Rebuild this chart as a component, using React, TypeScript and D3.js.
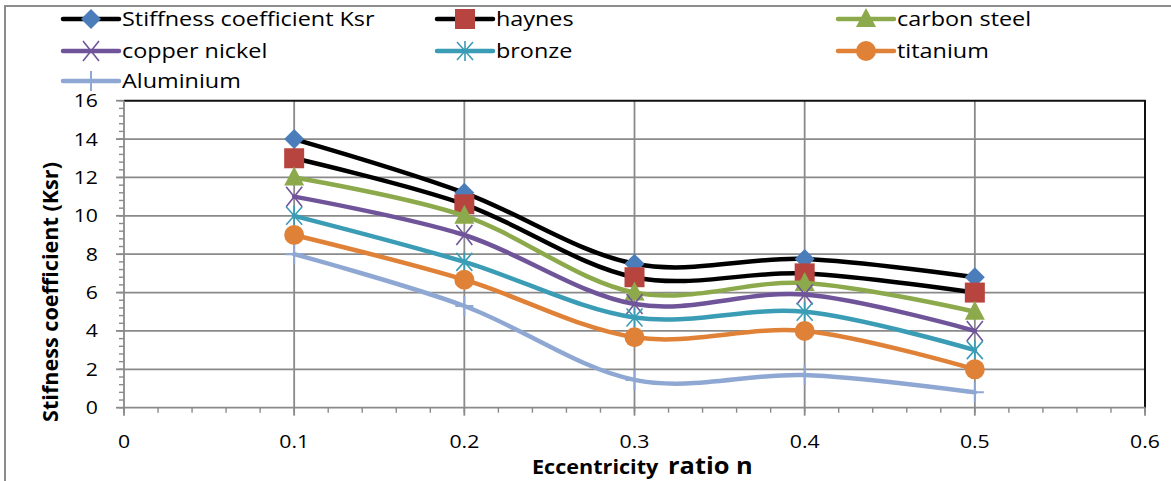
import React from "react";
import * as d3 from "d3";

// Eccentricity ratio values on the x axis
const ratios = [0.1, 0.2, 0.3, 0.4, 0.5];

// Stiffness coefficient per series
const ksr = [14, 11.2, 7.5, 7.75, 6.8];
const haynes = [13, 10.6, 6.8, 7.0, 6.0];
const carbonSteel = [12, 10, 6.0, 6.5, 5.0];
const copperNickel = [11, 9.0, 5.4, 5.9, 4.0];
const bronze = [10, 7.6, 4.7, 5.0, 3.0];
const titanium = [9, 6.67, 3.67, 4.0, 2.0];
const aluminium = [8, 5.3, 1.45, 1.7, 0.8];

const seriesNames = [
  "Stiffness coefficient Ksr",
  "haynes",
  "carbon steel",
  "copper nickel",
  "bronze",
  "titanium",
  "Aluminium",
];

const xTickLabels = ["0", "0.1", "0.2", "0.3", "0.4", "0.5", "0.6"];
const yTickLabels = ["0", "2", "4", "6", "8", "10", "12", "14", "16"];

type MarkerKind = "diamond" | "square" | "triangle" | "x" | "star" | "circle" | "plus";

const styles: { line: string; marker: string; kind: MarkerKind }[] = [
  { line: "#000000", marker: "#4A7DBA", kind: "diamond" },
  { line: "#000000", marker: "#B8443F", kind: "square" },
  { line: "#8CAA4B", marker: "#8CAA4B", kind: "triangle" },
  { line: "#70549A", marker: "#70549A", kind: "x" },
  { line: "#3A9CB5", marker: "#3A9CB5", kind: "star" },
  { line: "#E08138", marker: "#E08138", kind: "circle" },
  { line: "#8FA8D3", marker: "#8FA8D3", kind: "plus" },
];

const allSeries = [ksr, haynes, carbonSteel, copperNickel, bronze, titanium, aluminium];

const W = 1171;
const H = 481;
const plot = { left: 124, right: 1145, top: 100.7, bottom: 407.7 };
const FONT = "'Open Sans', 'Noto Sans', sans-serif";
const SX = 1.18;

function Marker({ kind, color, x, y }: { kind: MarkerKind; color: string; x: number; y: number }) {
  switch (kind) {
    case "diamond":
      return <path d={`M${x},${y - 10}L${x + 10},${y}L${x},${y + 10}L${x - 10},${y}Z`} fill={color} />;
    case "square":
      return <rect x={x - 10} y={y - 10} width={20} height={20} fill={color} />;
    case "triangle":
      return <path d={`M${x},${y - 11}L${x + 10},${y + 8}L${x - 10},${y + 8}Z`} fill={color} />;
    case "x":
      return (
        <path
          d={`M${x - 8},${y - 10}L${x + 8},${y + 10}M${x + 8},${y - 10}L${x - 8},${y + 10}`}
          stroke={color}
          strokeWidth={1.6}
          fill="none"
        />
      );
    case "star":
      return (
        <path
          d={`M${x - 8},${y - 9}L${x + 8},${y + 9}M${x + 8},${y - 9}L${x - 8},${y + 9}M${x},${y - 10}L${x},${y + 10}`}
          stroke={color}
          strokeWidth={1.6}
          fill="none"
        />
      );
    case "circle":
      return <circle cx={x} cy={y} r={10} fill={color} />;
    case "plus":
      return (
        <path
          d={`M${x - 9},${y}L${x + 9},${y}M${x},${y - 10}L${x},${y + 10}`}
          stroke={color}
          strokeWidth={2}
          fill="none"
        />
      );
  }
}

export default function App() {
  const x = d3.scaleLinear().domain([0, 0.6]).range([plot.left, plot.right]);
  const y = d3.scaleLinear().domain([0, 16]).range([plot.bottom, plot.top]);

  const line = d3
    .line<number>()
    .x((_, i) => x(ratios[i]))
    .y((d) => y(d))
    .curve(d3.curveCardinal.tension(0));

  const xMajor = xTickLabels.map((t) => +t);
  const xMinor = d3.range(0, 0.6001, 0.02);
  const yMajor = yTickLabels.map((t) => +t);
  const yMinor = d3.range(0, 16.001, 0.4);

  const gridColor = "#8A8A8A";

  const legendCols = [63, 437, 838];
  const legendRows = [19, 51, 81];

  return (
    <svg
      width={W}
      height={H}
      style={{ position: "absolute", left: 0, top: 0, background: "#fff" }}
      fontFamily={FONT}
    >
      <rect x={0} y={0} width={W} height={H} fill="#fff" />
      {/* chart frame */}
      <path d={`M5,${H}L5,6L${W},6`} stroke="#8C8C8C" strokeWidth={2} fill="none" />

      {/* horizontal gridlines */}
      {yMajor
        .filter((v) => v > 0 && v < 16)
        .map((v) => (
          <line key={`gy${v}`} x1={plot.left} x2={plot.right} y1={y(v)} y2={y(v)} stroke={gridColor} strokeWidth={1.8} />
        ))}
      {/* vertical gridlines */}
      {xMajor
        .filter((v) => v > 0 && v < 0.6)
        .map((v) => (
          <line key={`gx${v}`} x1={x(v)} x2={x(v)} y1={plot.top} y2={plot.bottom} stroke={gridColor} strokeWidth={1.8} />
        ))}

      {/* plot border top & right */}
      <path
        d={`M${plot.left},${plot.top}L${plot.right},${plot.top}L${plot.right},${plot.bottom}`}
        stroke="#111"
        strokeWidth={2}
        fill="none"
      />

      {/* axes */}
      <line x1={plot.left} x2={plot.left} y1={plot.top} y2={plot.bottom} stroke={gridColor} strokeWidth={1.8} />
      <line x1={plot.left} x2={plot.right} y1={plot.bottom} y2={plot.bottom} stroke={gridColor} strokeWidth={1.8} />

      {/* y ticks */}
      {yMinor.map((v, i) => (
        <line key={`ymn${i}`} x1={plot.left - 5} x2={plot.left} y1={y(v)} y2={y(v)} stroke={gridColor} strokeWidth={1.4} />
      ))}
      {yMajor.map((v) => (
        <line key={`ymj${v}`} x1={plot.left - 8} x2={plot.left} y1={y(v)} y2={y(v)} stroke={gridColor} strokeWidth={1.8} />
      ))}
      {yTickLabels.map((t) => (
        <text
          key={`yl${t}`}
          transform={`translate(${plot.left - 26},${y(+t) + 6.5}) scale(${SX},1)`}
          textAnchor="end"
          fontSize={18}
          fill="#000"
        >
          {t}
        </text>
      ))}

      {/* x ticks */}
      {xMinor.map((v, i) => (
        <line key={`xmn${i}`} x1={x(v)} x2={x(v)} y1={plot.bottom} y2={plot.bottom + 5} stroke={gridColor} strokeWidth={1.4} />
      ))}
      {xMajor.map((v) => (
        <line key={`xmj${v}`} x1={x(v)} x2={x(v)} y1={plot.bottom} y2={plot.bottom + 8} stroke={gridColor} strokeWidth={1.8} />
      ))}
      {xTickLabels.map((t) => (
        <text
          key={`xl${t}`}
          transform={`translate(${x(+t)},${448}) scale(${SX},1)`}
          textAnchor="middle"
          fontSize={18}
          fill="#000"
        >
          {t}
        </text>
      ))}

      {/* axis titles */}
      <text transform={`translate(532,474) scale(1.08,1)`} fontWeight="bold" fontSize={20} fill="#000">
        Eccentricity
      </text>
      <text transform={`translate(668,474) scale(1.06,1)`} fontWeight="bold" fontSize={24} fill="#000">
        ratio n
      </text>
      <text
        transform={`translate(58,292) rotate(-90)`}
        textAnchor="middle"
        fontWeight="bold"
        fontSize={21.6}
        fill="#000"
      >
        Stifness coefficient (Ksr)
      </text>

      {/* series */}
      {allSeries.map((vals, si) => (
        <g key={`s${si}`}>
          <path
            d={line(vals) || ""}
            stroke={styles[si].line}
            strokeWidth={4.5}
            fill="none"
            strokeLinejoin="round"
            strokeLinecap="round"
          />
          {vals.map((v, i) => (
            <Marker key={i} kind={styles[si].kind} color={styles[si].marker} x={x(ratios[i])} y={y(v)} />
          ))}
        </g>
      ))}

      {/* legend */}
      {seriesNames.map((name, i) => {
        const lx = legendCols[i % 3];
        const ly = legendRows[Math.floor(i / 3)];
        return (
          <g key={`lg${i}`}>
            <line x1={lx} x2={lx + 56} y1={ly} y2={ly} stroke={styles[i].line} strokeWidth={4.5} strokeLinecap="round" />
            <Marker kind={styles[i].kind} color={styles[i].marker} x={lx + 28} y={ly} />
            <text transform={`translate(${lx + 59},${ly + 7}) scale(1.2,1)`} fontSize={19.5} fill="#000">
              {name}
            </text>
          </g>
        );
      })}
    </svg>
  );
}
